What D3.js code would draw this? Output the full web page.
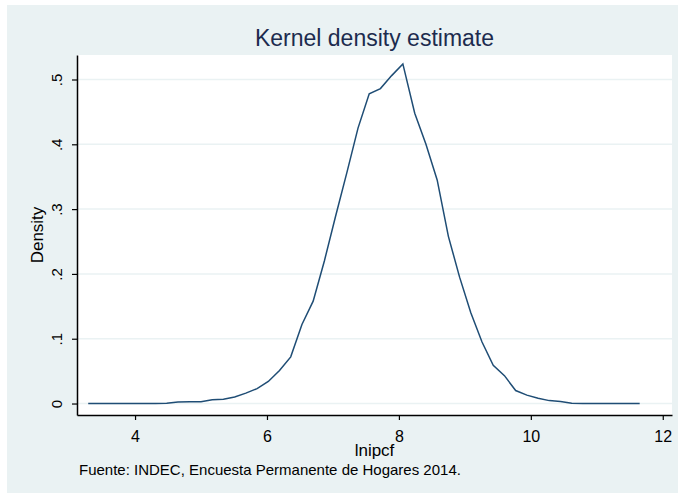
<!DOCTYPE html>
<html>
<head>
<meta charset="utf-8">
<script src="https://cdn.jsdelivr.net/npm/d3@7"></script>
<style>
  body { margin: 0; background: #fff; }
  text { font-family: "Liberation Sans", Arial, sans-serif; }
</style>
</head>
<body>
<script>
// kernel density curve, 50 evaluation points
const gridX = [3.29, 3.46, 3.63, 3.80, 3.97, 4.14, 4.31, 4.48, 4.65, 4.83,
               5.00, 5.17, 5.34, 5.51, 5.68, 5.85, 6.02, 6.19, 6.36, 6.53,
               6.70, 6.87, 7.04, 7.21, 7.38, 7.55, 7.72, 7.89, 8.06, 8.24,
               8.41, 8.58, 8.75, 8.92, 9.09, 9.26, 9.43, 9.60, 9.77, 9.94,
               10.11, 10.28, 10.45, 10.62, 10.79, 10.96, 11.13, 11.30, 11.47, 11.65];
const density = [0, 0, 0, 0, 0, 0, 0, 0.0003, 0.0025, 0.0026,
                 0.0028, 0.006, 0.0065, 0.010, 0.016, 0.023, 0.034, 0.051, 0.072, 0.122,
                 0.158, 0.220, 0.289, 0.356, 0.425, 0.478, 0.486, 0.506, 0.524, 0.448,
                 0.400, 0.345, 0.258, 0.195, 0.140, 0.095, 0.059, 0.043, 0.020, 0.013,
                 0.008, 0.0045, 0.003, 0.0006, 0, 0, 0, 0, 0, 0];
const xTicks = [4, 6, 8, 10, 12];
const yTicks = [0, 0.1, 0.2, 0.3, 0.4, 0.5];
const yTickLabels = ["0", ".1", ".2", ".3", ".4", ".5"];

const W = 678, H = 495;
const pLeft = 77, pRight = 672, pTop = 55, pBottom = 415;

const svg = d3.select("body").append("svg").attr("width", W).attr("height", H);

// outer graph region
svg.append("rect").attr("x", 7).attr("y", 5).attr("width", W - 7).attr("height", 488)
   .attr("fill", "#eaf2f3");
svg.append("rect").attr("x", pLeft).attr("y", pTop).attr("width", pRight - pLeft).attr("height", pBottom - pTop)
   .attr("fill", "#fff");

const x = d3.scaleLinear().domain([3.12, 12.14]).range([pLeft, pRight]);
const y = d3.scaleLinear().domain([-0.0177, 0.5378]).range([pBottom, pTop]);

// grid
svg.selectAll("line.grid")
  .data(yTicks)
  .enter()
  .append("line")
  .attr("class", "grid")
  .attr("x1", pLeft).attr("x2", pRight)
  .attr("y1", d => y(d)).attr("y2", d => y(d))
  .attr("stroke", "#eaf2f3").attr("stroke-width", 1.5);

// the curve
const pts = gridX.map((v, i) => [v, density[i]]);
svg.append("path")
  .datum(pts)
  .attr("fill", "none")
  .attr("stroke", "#1f4d75")
  .attr("stroke-width", 1.5)
  .attr("d", d3.line().x(d => x(d[0])).y(d => y(d[1])));

// axes
let gx = svg.append("g").attr("transform", `translate(0, ${pBottom})`)
  .call(d3.axisBottom(x).tickValues(xTicks).tickSize(5).tickSizeOuter(0).tickFormat(d3.format("d")));
gx.selectAll("text").attr("y", 27).attr("dy", 0).attr("font-size", 16).attr("fill", "#000");

let gy = svg.append("g").attr("transform", `translate(${pLeft}, 0)`)
  .call(d3.axisLeft(y).tickValues(yTicks).tickSize(5).tickSizeOuter(0).tickFormat((d, i) => yTickLabels[i]));
gy.selectAll("text")
  .attr("x", 0).attr("y", -15).attr("dy", 0)
  .attr("transform", "rotate(-90)")
  .attr("text-anchor", "middle")
  .attr("font-size", 15).attr("fill", "#000");

[gx, gy].forEach(g => {
  g.select(".domain").attr("stroke", "#000").attr("stroke-width", 1.5);
  g.selectAll(".tick line").attr("stroke", "#000").attr("stroke-width", 1.2);
});

// titles
svg.append("text").attr("x", (pLeft + pRight) / 2).attr("y", 46)
   .attr("text-anchor", "middle").attr("font-size", 23).attr("fill", "#1c2b4e")
   .text("Kernel density estimate");

svg.append("text").attr("x", (pLeft + pRight) / 2).attr("y", 456)
   .attr("text-anchor", "middle").attr("font-size", 17).attr("fill", "#000")
   .text("lnipcf");

svg.append("text").attr("transform", `translate(43, ${(pTop + pBottom) / 2}) rotate(-90)`)
   .attr("text-anchor", "middle").attr("font-size", 17).attr("fill", "#000")
   .text("Density");

svg.append("text").attr("x", 79).attr("y", 475)
   .attr("font-size", 15).attr("fill", "#000")
   .text("Fuente: INDEC, Encuesta Permanente de Hogares 2014.");
</script>
</body>
</html>
